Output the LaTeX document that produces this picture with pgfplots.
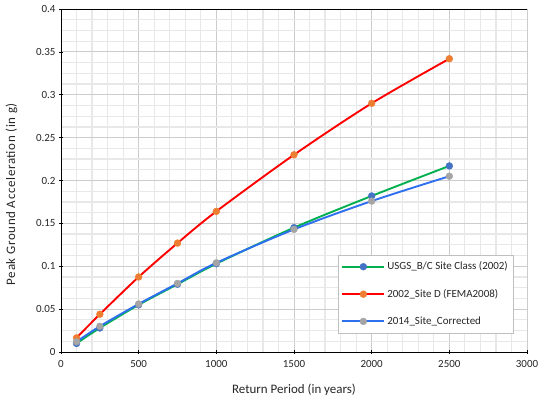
\documentclass[border=0pt]{standalone}
\usepackage{pgfplots}
\pgfplotsset{compat=1.18}
\usepackage{fontspec}
\setmainfont{Carlito}
\definecolor{cgreen}{HTML}{00B050}
\definecolor{cred}{HTML}{FF0000}
\definecolor{cblue}{HTML}{2E6FF0}
\definecolor{mblue}{HTML}{4472C4}
\definecolor{morange}{HTML}{ED7D31}
\definecolor{mgray}{HTML}{A5A5A5}
\begin{document}
\begin{tikzpicture}
\begin{axis}[
  scale only axis, width=466bp, height=343bp,
  xmin=0, xmax=3000, ymin=0, ymax=0.4,
  xtick={0,500,...,3000},
  ytick={0,0.05,...,0.4},
  yticklabels={0,0.05,0.1,0.15,0.2,0.25,0.3,0.35,0.4},
  xticklabels={0,500,1000,1500,2000,2500,3000},
  minor x tick num=4, minor y tick num=3,
  grid=both,
  major grid style={draw=black!20, line width=0.8pt},
  minor grid style={draw=black!9, line width=1.2pt},
  axis x line*=bottom, axis y line*=left,
  axis line style={black, line width=0.9pt},
  tick style={black, line width=0.6pt},
  major tick length=4pt,
  minor tick length=0pt,
  tick align=center,
  tick label style={font=\fontsize{11}{13}\selectfont, text=black!85},
  xticklabel style={yshift=-3pt},
  /pgf/number format/assume math mode=true,
  xlabel={Return Period\ (in years)},
  ylabel={\addfontfeature{LetterSpace=5}Peak Ground Acceleration\ (in g)},
  label style={font=\fontsize{13}{15}\selectfont, text=black!85},
  xlabel style={yshift=-10pt},
  ylabel style={at={(ticklabel cs:0.46)}, yshift=12pt},
  legend style={at={(rel axis cs:0.97,0.055)}, anchor=south east,
    draw=black!25, fill=white, font=\fontsize{11}{13}\selectfont,
    row sep=14pt, inner xsep=3pt, inner ysep=5pt, text=black!85},
  legend cell align=left,
  legend image code/.code={
    \draw[#1, mark=none] (0bp,0bp) -- (42bp,0bp);
    \draw[#1, draw=none] plot coordinates {(21bp,0bp)};
  },
  clip=false,
]
\draw[black, line width=0.9pt] (rel axis cs:0,1) -- (rel axis cs:1,1);
\addplot[cgreen, line width=1.9pt, smooth, mark=*, mark size=3.5pt,
  mark options={draw=mblue, fill=mblue, line width=0.3pt, solid}] coordinates {
(100,0.010) (250,0.028) (500,0.055) (750,0.079) (1000,0.103) (1500,0.145) (2000,0.182) (2500,0.217)};
\addlegendentry{USGS\_B/C Site Class (2002)}
\addplot[cred, line width=1.9pt, smooth, mark=*, mark size=3.5pt,
  mark options={draw=morange, fill=morange, line width=0.3pt, solid}] coordinates {
(100,0.0165) (250,0.044) (500,0.0875) (750,0.127) (1000,0.164) (1500,0.230) (2000,0.290) (2500,0.342)};
\addlegendentry{2002\_Site D (FEMA2008)}
\addplot[cblue, line width=1.9pt, smooth, mark=*, mark size=3.5pt,
  mark options={draw=mgray, fill=mgray, line width=0.3pt, solid}] coordinates {
(100,0.012) (250,0.030) (500,0.056) (750,0.080) (1000,0.104) (1500,0.143) (2000,0.176) (2500,0.205)};
\addlegendentry{2014\_Site\_Corrected}
\end{axis}
\pgfresetboundingbox
\path (current axis.south west) ++(-61bp,-48bp) rectangle ++(538bp,400bp);
\end{tikzpicture}
\end{document}
